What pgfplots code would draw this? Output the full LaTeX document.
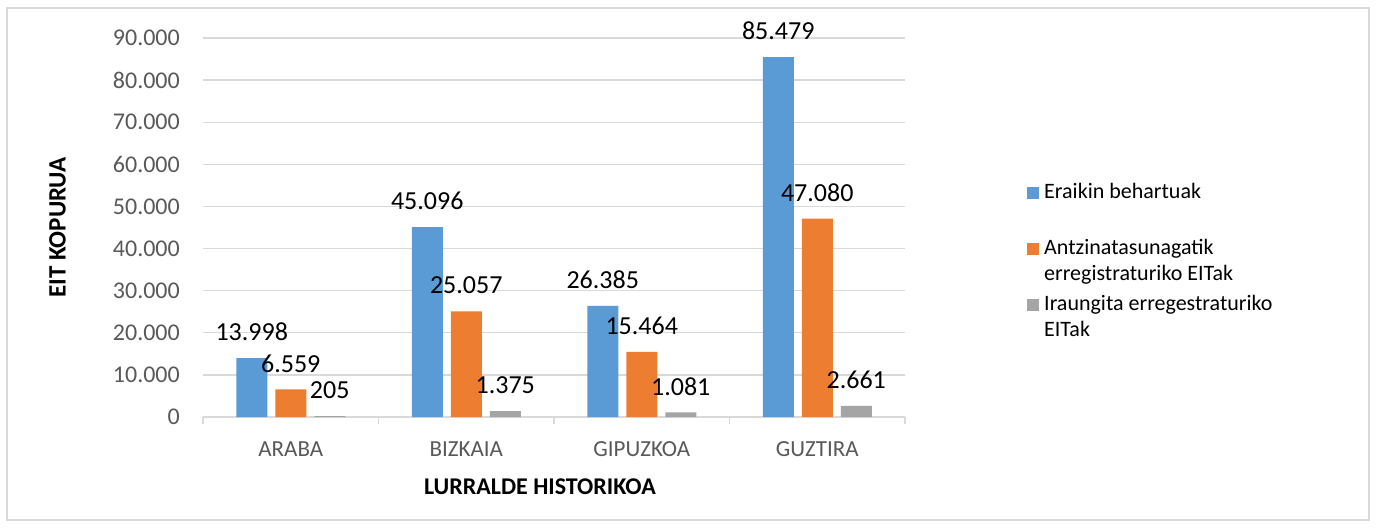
\documentclass[border=0pt]{standalone}
\usepackage{fontspec}
\setmainfont{Carlito}
\usepackage{pgfplots}
\pgfplotsset{compat=1.18}
\definecolor{cblue}{HTML}{5B9BD5}
\definecolor{corange}{HTML}{ED7D31}
\definecolor{cgray}{HTML}{A5A5A5}
\definecolor{cgrid}{HTML}{D9D9D9}
\definecolor{ctick}{HTML}{595959}
\newcommand{\legtext}[1]{\parbox[t][56pt][t]{300pt}{\fontsize{22}{26}\selectfont\raggedright\strut #1}}
\begin{document}
\begin{tikzpicture}
\path[use as bounding box] (0pt,0pt) rectangle (1376pt,528pt);
\fill[white] (0pt,0pt) rectangle (1376pt,528pt);
\draw[cgrid, line width=1.2pt] (7pt,8pt) rectangle (1369pt,520pt);
\begin{axis}[
  at={(203pt,111pt)}, anchor=south west,
  scale only axis, width=702pt, height=379pt,
  ybar=8pt, bar width=31pt,
  legend image code/.code={\fill[#1] (0pt,0pt) rectangle (12pt,12pt);},
  xmin=-0.5, xmax=3.5, ymin=0, ymax=90000,
  xtick={0,1,2,3},
  xticklabels={ARABA,BIZKAIA,GIPUZKOA,GUZTIRA},
  minor xtick={-0.5,0.5,1.5,2.5,3.5},
  ytick={0,10000,...,90000},
  scaled y ticks=false,
  /pgf/number format/.cd, fixed, precision=0, 1000 sep={.}, assume math mode=true, /pgfplots/.cd,
  axis lines*=left,
  x axis line style={draw=cgrid, line width=1.3pt, -},
  y axis line style={draw=none},
  major tick length=0pt,
  minor tick length=7pt,
  tick align=outside,
  minor tick style={draw=cgrid, line width=1.3pt},
  ymajorgrids, grid style={cgrid, line width=1.3pt},
  yticklabel style={font=\fontsize{24}{28}\selectfont, text=ctick, anchor=east, inner sep=0pt, xshift=-23pt},
  xticklabel style={font=\fontsize{23}{28}\selectfont, text=ctick, anchor=center, inner sep=0pt, yshift=-32pt},
  every axis y label/.style={at={(axis description cs:-0.2073,0.5)}, rotate=90, anchor=center},
  every axis x label/.style={at={(axis description cs:0.48,-0.185)}, anchor=center},
  ylabel={\fontsize{25}{30}\selectfont\bfseries EIT KOPURUA},
  xlabel={\fontsize{24}{30}\selectfont\bfseries LURRALDE HISTORIKOA},
  nodes near coords={\pgfmathprintnumber{\pgfplotspointmeta}},
  every node near coord/.append style={font=\fontsize{26}{30}\selectfont, text=black, anchor=center, inner sep=0pt, yshift=26pt},
  legend style={at={(axis description cs:1.1738,0.624)}, anchor=north west, draw=none, fill=none,
    inner sep=0pt, row sep=0pt, column sep=5pt,
    cells={anchor=base west}, nodes={inner sep=0pt, text depth=}},
]
\addplot[fill=cblue, draw=none] coordinates {(0,13998) (1,45096) (2,26385) (3,85479)};
\addlegendentry{\legtext{Eraikin behartuak}}
\addplot[fill=corange, draw=none] coordinates {(0,6559) (1,25057) (2,15464) (3,47080)};
\addlegendentry{\legtext{Antzinatasunagatik\\erregistraturiko EITak}}
\addplot[fill=cgray, draw=none] coordinates {(0,205) (1,1375) (2,1081) (3,2661)};
\addlegendentry{\legtext{Iraungita erregestraturiko\\EITak}}
\end{axis}
\end{tikzpicture}
\end{document}
